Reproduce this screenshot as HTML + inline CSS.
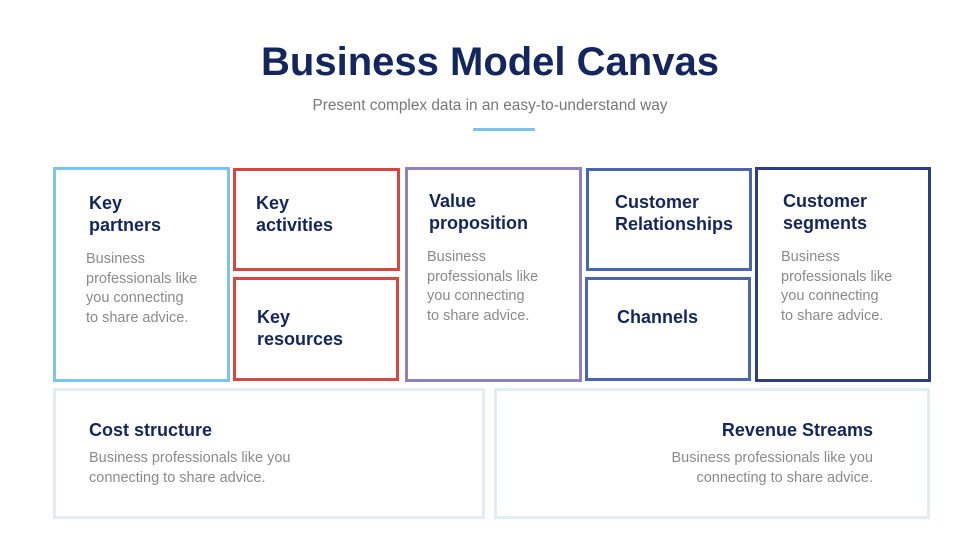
<!DOCTYPE html>
<html><head><style>
body{margin:0;width:980px;height:551px;background:#fff;position:relative;overflow:hidden;font-family:"Liberation Sans",sans-serif}
.a{position:absolute;box-sizing:border-box}
.b{border:3px solid}
h1{position:absolute;left:0;width:980px;top:40px;margin:0;text-align:center;font-size:40px;color:#13275e;font-weight:bold}
.sub{position:absolute;left:0;width:980px;top:97px;text-align:center;font-size:15.4px;color:#777}
.h{position:absolute;font-size:18px;font-weight:bold;color:#13275e;line-height:22px}
.t{position:absolute;font-size:14.5px;color:#8a8a8a;line-height:19.5px}
</style></head><body>
<h1>Business Model Canvas</h1>
<div class="sub">Present complex data in an easy-to-understand way</div>
<div class="a" style="left:473px;top:128px;width:62px;height:3px;background:#7cc4ee"></div>

<div class="a b" style="left:53px;top:167px;width:177px;height:215px;border-color:#7cc4ee"></div>
<div class="h" style="left:89px;top:192px">Key<br>partners</div>
<div class="t" style="left:86px;top:250px">Business<br>professionals like<br>you connecting<br>to share advice.</div>

<div class="a b" style="left:233px;top:168px;width:167px;height:103px;border-color:#d9453f"></div>
<div class="h" style="left:256px;top:192px">Key<br>activities</div>
<div class="a b" style="left:233px;top:277px;width:166px;height:104px;border-color:#d9453f"></div>
<div class="h" style="left:257px;top:306px">Key<br>resources</div>

<div class="a b" style="left:405px;top:167px;width:177px;height:215px;border-color:#8f80c0"></div>
<div class="h" style="left:429px;top:190px">Value<br>proposition</div>
<div class="t" style="left:427px;top:248px">Business<br>professionals like<br>you connecting<br>to share advice.</div>

<div class="a b" style="left:586px;top:168px;width:166px;height:103px;border-color:#4a66b0"></div>
<div class="h" style="left:615px;top:191px">Customer<br>Relationships</div>
<div class="a b" style="left:585px;top:277px;width:166px;height:104px;border-color:#4a66b0"></div>
<div class="h" style="left:617px;top:306px">Channels</div>

<div class="a b" style="left:755px;top:167px;width:176px;height:215px;border-color:#2d3f80"></div>
<div class="h" style="left:783px;top:190px">Customer<br>segments</div>
<div class="t" style="left:781px;top:248px">Business<br>professionals like<br>you connecting<br>to share advice.</div>

<div class="a b" style="left:53px;top:388px;width:432px;height:131px;border-color:#e3ecf0"></div>
<div class="h" style="left:89px;top:419px">Cost structure</div>
<div class="t" style="left:89px;top:449px">Business professionals like you<br>connecting to share advice.</div>

<div class="a b" style="left:494px;top:388px;width:436px;height:131px;border-color:#e3ecf0"></div>
<div class="h" style="right:107px;top:419px;text-align:right">Revenue Streams</div>
<div class="t" style="right:107px;top:449px;text-align:right">Business professionals like you<br>connecting to share advice.</div>
</body></html>
